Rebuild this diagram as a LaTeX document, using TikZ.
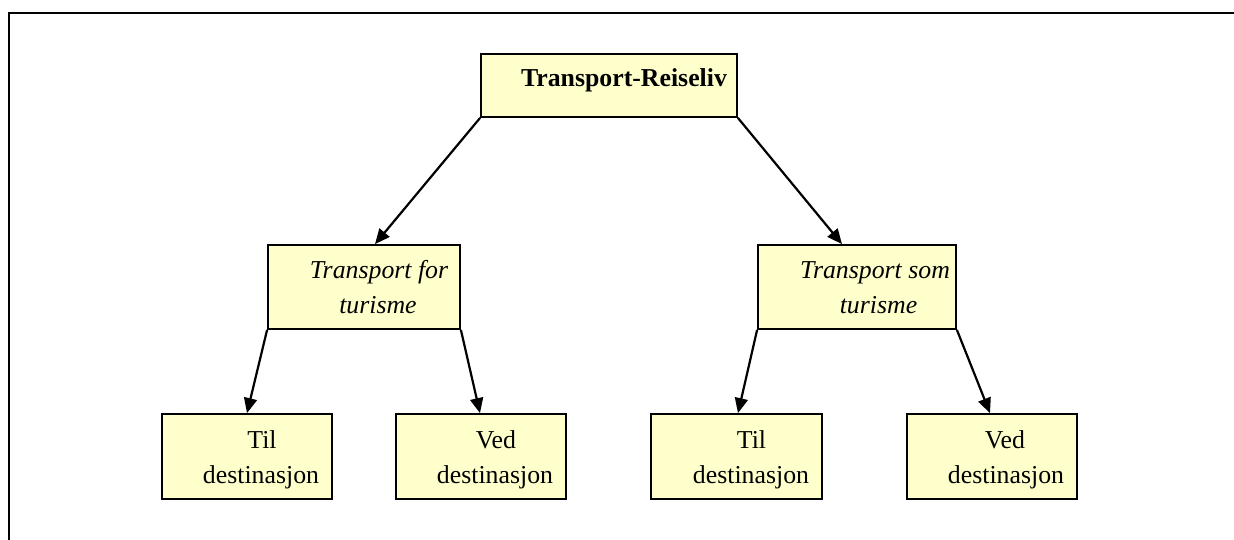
\documentclass[tikz,border=0pt]{standalone}
\usepackage{fontspec}
\setmainfont{Liberation Serif}
\usetikzlibrary{arrows.meta}
\definecolor{boxfill}{HTML}{FFFFCC}
\tikzset{
  box/.style={draw=black, line width=1.8pt, fill=boxfill, inner sep=0pt},
  txt/.style={inner sep=0pt, anchor=base, font=\fontsize{25.8}{30}\selectfont},
  arr/.style={line width=2.2pt, -{Triangle[length=15pt,width=13pt]}},
  frame/.style={line width=2.2pt}
}
\begin{document}
\begin{tikzpicture}[x=1pt,y=-1pt]
\useasboundingbox (0,0) rectangle (1234,540);
% frame
\coordinate (fbl) at (9,541);
\coordinate (ftl) at (9,13);
\coordinate (ftr) at (1235,13);
\draw[frame] (fbl) -- (ftl) -- (ftr);
% boxes
\node[box, minimum width=256pt, minimum height=63pt] (top) at (609,85.5) {};
\node[box, minimum width=192pt, minimum height=84pt] (ml) at (364,287) {};
\node[box, minimum width=198pt, minimum height=84pt] (mr) at (857,287) {};
\node[box, minimum width=170pt, minimum height=85pt] (tl1) at (247,456.5) {};
\node[box, minimum width=170pt, minimum height=85pt] (vd1) at (481,456.5) {};
\node[box, minimum width=171pt, minimum height=85pt] (tl2) at (736.5,456.5) {};
\node[box, minimum width=170pt, minimum height=85pt] (vd2) at (992,456.5) {};
% texts
\node[txt, font=\fontsize{25.8}{30}\selectfont\bfseries] (toptxt) at (624,87) {Transport-Reiseliv};
\node[txt, font=\fontsize{25.8}{30}\selectfont\itshape] (mla) at (379,278) {Transport for};
\node[txt, font=\fontsize{25.8}{30}\selectfont\itshape] (mlb) at (378,313) {turisme};
\node[txt, font=\fontsize{25.8}{30}\selectfont\itshape] (mra) at (875,278) {Transport som};
\node[txt, font=\fontsize{25.8}{30}\selectfont\itshape] (mrb) at (878.5,313) {turisme};
\node[txt] (tl1a) at (262,448) {Til};
\node[txt] (tl1b) at (261,483) {destinasjon};
\node[txt] (vd1a) at (496,448) {Ved};
\node[txt] (vd1b) at (495,483) {destinasjon};
\node[txt] (tl2a) at (751.5,448) {Til};
\node[txt] (tl2b) at (751,483) {destinasjon};
\node[txt] (vd2a) at (1005,448) {Ved};
\node[txt] (vd2b) at (1006,483) {destinasjon};
% connectors
\draw[arr] (top.south west) -- ([xshift=11pt]ml.north);
\draw[arr] (top.south east) -- ([xshift=-15pt]mr.north);
\draw[arr] (ml.south west) -- (tl1.north);
\draw[arr] (ml.south east) -- ([xshift=-1pt]vd1.north);
\draw[arr] (mr.south west) -- ([xshift=1.5pt]tl2.north);
\draw[arr] (mr.south east) -- ([xshift=-2pt]vd2.north);
\end{tikzpicture}
\end{document}
